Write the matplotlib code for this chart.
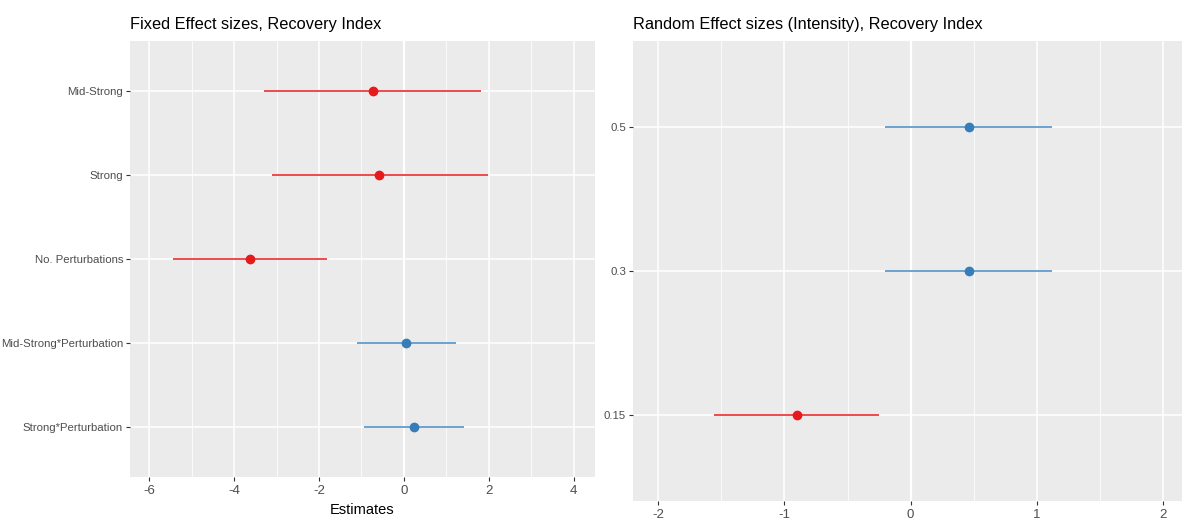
import matplotlib
matplotlib.use("Agg")
import matplotlib.pyplot as plt
import numpy as np

plt.rcParams['font.family'] = ['Liberation Sans', 'DejaVu Sans']
plt.rcParams['axes.unicode_minus'] = False

# Fixed effects (top to bottom)
fixed_terms = ["Mid-Strong", "Strong", "No. Perturbations",
               "Mid-Strong*Perturbation", "Strong*Perturbation"]
fixed_est = [-0.73, -0.59, -3.62, 0.05, 0.24]
fixed_lo = [-3.29, -3.11, -5.44, -1.11, -0.94]
fixed_hi = [1.81, 1.98, -1.81, 1.22, 1.41]

# Random effects by intensity (top to bottom)
rand_levels = ["0.5", "0.3", "0.15"]
rand_est = [0.46, 0.46, -0.90]
rand_lo = [-0.20, -0.20, -1.56]
rand_hi = [1.12, 1.12, -0.25]

RED_PT, RED_LN = "#E41A1C", "#EE4A4C"
BLUE_PT, BLUE_LN = "#377EB8", "#6AA2D0"
PANEL = "#EBEBEB"
TICK = "#4D4D4D"

fig = plt.figure(figsize=(11.82, 5.24), dpi=100)
W, H = 1182, 524


def ax_at(x0, y0, x1, y1):
    return fig.add_axes([x0 / W, 1 - y1 / H, (x1 - x0) / W, (y1 - y0) / H])


def style(ax, major, minor):
    ax.set_facecolor(PANEL)
    for s in ax.spines.values():
        s.set_visible(False)
    ax.set_xticks(major)
    ax.set_xticks(minor, minor=True)
    ax.grid(which="major", axis="both", color="white", lw=1.1, zorder=0)
    ax.grid(which="minor", axis="x", color="white", lw=0.55, zorder=0)
    ax.tick_params(which="major", length=3, width=0.8, color="#333333",
                   labelcolor=TICK, labelsize=9.5, pad=3)
    ax.tick_params(axis="y", labelsize=8.2, pad=2)
    ax.tick_params(which="minor", length=0)
    ax.set_axisbelow(True)


def draw(ax, est, lo, hi):
    n = len(est)
    ys = np.arange(n, 0, -1)
    for y, e, l, h in zip(ys, est, lo, hi):
        if e < 0:
            pc, lc = RED_PT, RED_LN
        else:
            pc, lc = BLUE_PT, BLUE_LN
        ax.plot([l, h], [y, y], color=lc, lw=1.4, solid_capstyle="butt", zorder=3)
        ax.plot([e], [y], marker="o", ms=6, color=pc, mec=pc, zorder=4)
    ax.set_ylim(0.4, n + 0.6)
    ax.set_yticks(ys)
    return ys


# Left panel: fixed effects
axL = ax_at(130, 41, 595, 477)
style(axL, np.arange(-6, 5, 2), np.arange(-5, 5, 2))
ysL = draw(axL, fixed_est, fixed_lo, fixed_hi)
axL.set_yticklabels(fixed_terms)
axL.set_xlim(-6.45, 4.5)
axL.axvline(0, color="white", lw=1.6, zorder=1)
axL.set_xlabel("Estimates", fontsize=10.5, color="black", labelpad=4)
axL.set_title("Fixed Effect sizes, Recovery Index", loc="left", fontsize=11.8,
              color="black", pad=9)

# Right panel: random effects
axR = ax_at(633, 41, 1182, 501)
style(axR, np.arange(-2, 3, 1), np.arange(-1.5, 2.6, 1))
ysR = draw(axR, rand_est, rand_lo, rand_hi)
axR.set_yticklabels(rand_levels)
axR.set_xlim(-2.2, 2.15)
axR.axvline(0, color="white", lw=1.6, zorder=1)
axR.set_title("Random Effect sizes (Intensity), Recovery Index", loc="left",
              fontsize=11.8, color="black", pad=9)

fig.savefig("out.png", dpi=100, facecolor="white")
